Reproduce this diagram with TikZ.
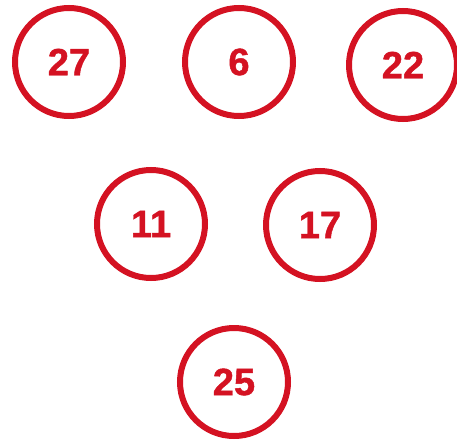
\documentclass[tikz,border=0pt]{standalone}
\usepackage{fontspec}
\setmainfont{Liberation Sans}
\newfontfamily\heavyfont[FakeBold=1.2]{Liberation Sans Bold}
\definecolor{ringred}{RGB}{212,18,34}
\begin{document}
\begin{tikzpicture}[x=1pt,y=-1pt,
  ring/.style={circle,draw=ringred,line width=6pt,minimum size=108pt,inner sep=0pt,
    text=ringred,font=\fontsize{38}{38}\selectfont\heavyfont}]
\useasboundingbox[fill=white] (0,0) rectangle (457,439);
\node[ring] (n27) at (69,62) {27};
\node[ring] (n6) at (239,62) {6};
\node[ring] (n22) at (403,65) {22};
\node[ring] (n11) at (151,224) {11};
\node[ring] (n17) at (320,225) {17};
\node[ring] (n25) at (234,382) {25};
\end{tikzpicture}
\end{document}
